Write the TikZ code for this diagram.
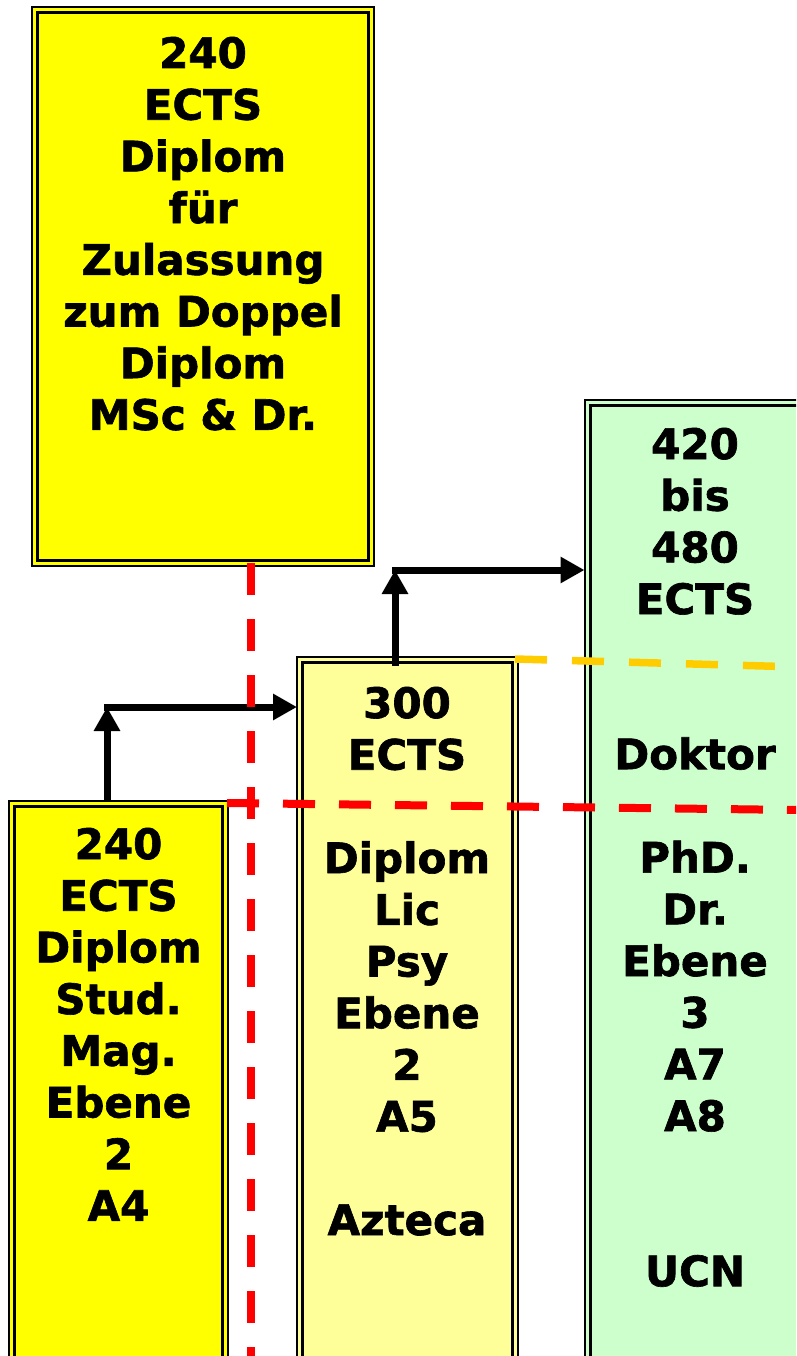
\documentclass[tikz,border=0pt]{standalone}
\usepackage{fontspec}
\setmainfont{DejaVu Sans}[BoldFont={DejaVu Sans Bold},BoldFeatures={FakeBold=1.5}]
\usetikzlibrary{arrows.meta,calc}
\definecolor{ylw}{HTML}{FFFF00}
\definecolor{lyel}{HTML}{FFFF99}
\definecolor{lgrn}{HTML}{CCFFCC}
\definecolor{orng}{HTML}{FFCC00}
\definecolor{rdd}{HTML}{FF0000}
\newcommand{\innerframe}[1]{\draw[line width=3pt] ($(#1.north west)+(5.5,5.5)$) rectangle ($(#1.south east)+(-5.5,-5.5)$);}
\begin{document}
\begin{tikzpicture}[x=1pt,y=-1pt,
  box/.style={draw=black, line width=2pt, inner sep=0pt, outer sep=0pt},
  lbl/.style={anchor=base, inner sep=0pt, font=\fontsize{42}{51.7}\selectfont\bfseries},
  arr/.style={line width=7pt, -{Triangle[length=24pt,width=25pt]}},
  rdash/.style={draw=rdd, line width=8pt, dash pattern=on 32pt off 24pt},
  odash/.style={draw=orng, line width=7.5pt, dash pattern=on 32pt off 25pt}]
\useasboundingbox (0,0) rectangle (796,1356);
\clip (0,0) rectangle (796,1356);
% boxes
\node[box, fill=ylw, minimum width=342pt, minimum height=558.5pt] (top) at (203,286.75) {};
\innerframe{top}
\node[box, fill=ylw, minimum width=219.5pt, minimum height=640pt] (left) at (118.25,1121) {};
\innerframe{left}
\node[box, fill=lyel, minimum width=220.5pt, minimum height=740pt] (mid) at (407.25,1027) {};
\innerframe{mid}
\node[box, fill=lgrn, minimum width=420pt, minimum height=1000pt] (grn) at (794.5,899.5) {};
\innerframe{grn}
% texts
\node[lbl] (ttop) at (203,68) {\begin{tabular}[t]{@{}c@{}}240\\ECTS\\Diplom\\für\\Zulassung\\zum Doppel\\Diplom\\MSc \& Dr.\end{tabular}};
\node[lbl] (tleft) at (118.5,859) {\begin{tabular}[t]{@{}c@{}}240\\ECTS\\Diplom\\Stud.\\Mag.\\Ebene\\2\\A4\end{tabular}};
\node[lbl] (tmid) at (407,718) {\begin{tabular}[t]{@{}c@{}}300\\ECTS\\ \\Diplom\\Lic\\Psy\\Ebene\\2\\A5\\ \\Azteca\end{tabular}};
\node[lbl] (tgrn) at (695,459) {\begin{tabular}[t]{@{}c@{}}420\\bis\\480\\ECTS\\ \\ \\Doktor\\ \\PhD.\\Dr.\\Ebene\\3\\A7\\A8\\ \\ \\UCN\end{tabular}};
% arrows
\coordinate (c1) at (107,707);
\coordinate (c2) at (395,570);
\draw[arr] (left.north -| c1) -- (c1);
\draw[arr] ($(c1)+(-3,0)$) -- (c1 -| mid.west);
\draw[arr] ($(mid.north -| c2)+(0,9)$) -- (c2);
\draw[arr] ($(c2)+(-3,0)$) -- (c2 -| grn.west);
% dashed lines
\coordinate (r1) at (251,563);
\coordinate (r2) at (251,1365);
\coordinate (h1) at (227,803);
\coordinate (h2) at (800,810);
\coordinate (o1) at (515,659);
\coordinate (o2) at (800,667);
\draw[odash] (o1) -- (o2);
\draw[rdash] (r1) -- (r2);
\draw[rdash] (h1) -- (h2);
\end{tikzpicture}
\end{document}
